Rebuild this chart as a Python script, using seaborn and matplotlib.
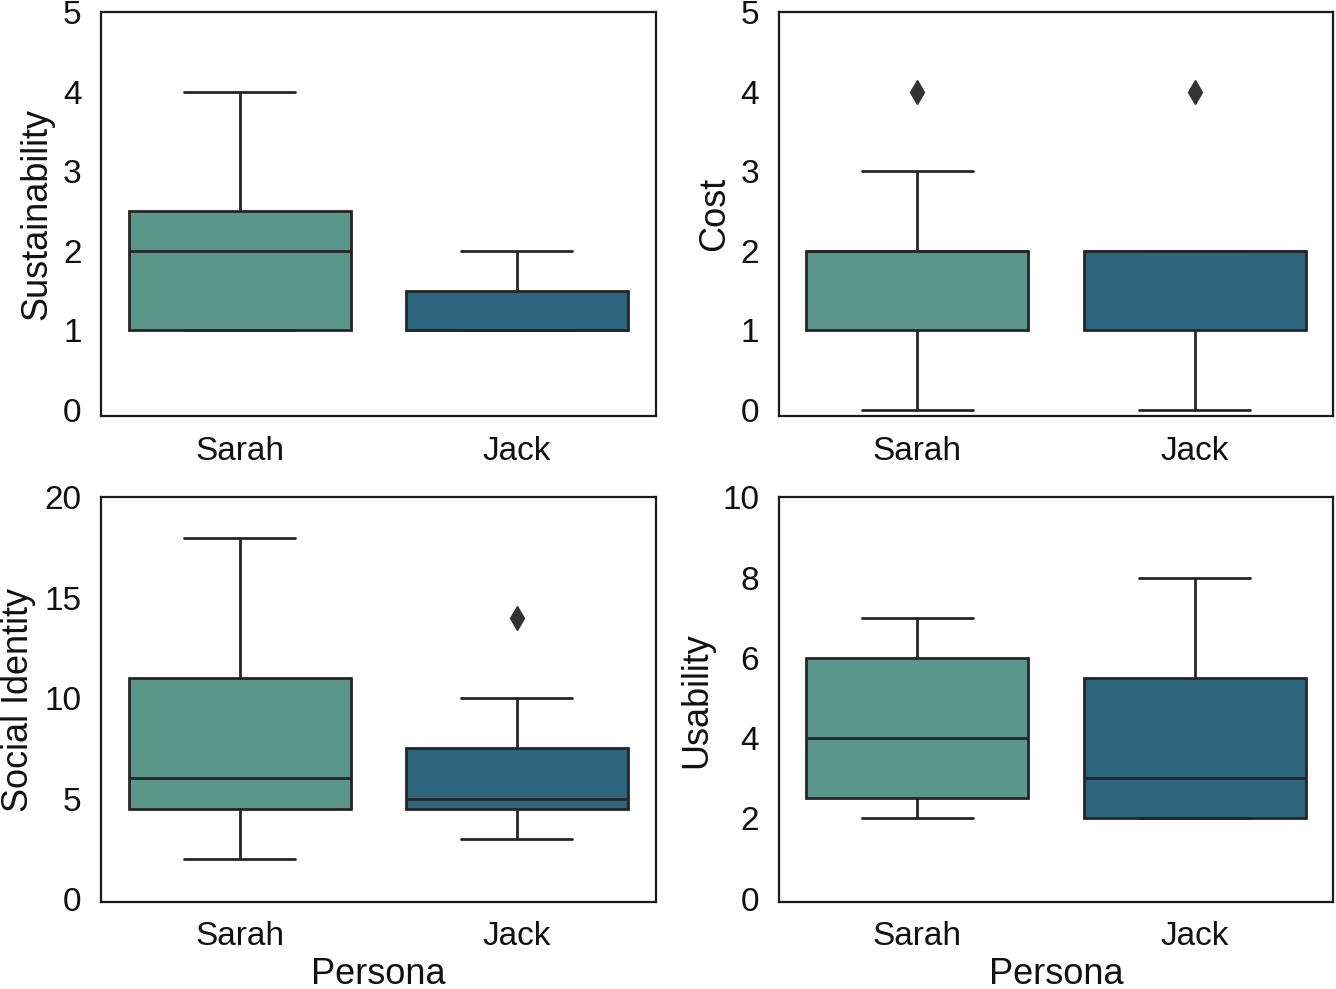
import numpy as np
import pandas as pd
import matplotlib
matplotlib.use("Agg")
import matplotlib.pyplot as plt
import seaborn as sns

# raw ratings per persona
personas = ["Sarah", "Jack"]
sustain_sarah = [1, 1, 1, 2, 2, 3, 4]
sustain_jack = [1, 1, 1, 1, 1, 2, 2]
cost_sarah = [0, 1, 1, 1, 2, 2, 2, 3, 4]
cost_jack = [0, 1, 1, 1, 2, 2, 2, 2, 4]
social_sarah = [2, 4, 5, 6, 10, 12, 18]
social_jack = [3, 4, 4, 5, 5, 5, 6, 7, 8, 10, 14]
usab_sarah = [2, 2, 3, 4, 5, 7, 7]
usab_jack = [2, 2, 2, 3, 5, 6, 8]

panels = [
    ("Sustainability", sustain_sarah, sustain_jack, (-0.08, 5), [0, 1, 2, 3, 4, 5]),
    ("Cost", cost_sarah, cost_jack, (-0.08, 5), [0, 1, 2, 3, 4, 5]),
    ("Social Identity", social_sarah, social_jack, (-0.15, 20), [0, 5, 10, 15, 20]),
    ("Usability", usab_sarah, usab_jack, (-0.08, 10), [0, 2, 4, 6, 8, 10]),
]
colors = {"Sarah": "#5a968a", "Jack": "#2d667c"}

sns.set_theme(style="white")
plt.rcParams.update({"font.family": ["Liberation Sans", "DejaVu Sans"],
                     "font.size": 24, "axes.linewidth": 1.6,
                     "axes.edgecolor": "#1a1a1a", "text.color": "#111111",
                     "axes.labelcolor": "#111111", "xtick.color": "#111111",
                     "ytick.color": "#111111"})

fig, axes = plt.subplots(2, 2, figsize=(13.36, 9.89), dpi=100)
fig.subplots_adjust(left=0.0756, right=0.998, top=0.988, bottom=0.088,
                    hspace=0.2, wspace=0.222)

for ax, (label, sarah, jack, ylim, ticks) in zip(axes.flatten(), panels):
    df = pd.DataFrame({
        "Persona": ["Sarah"] * len(sarah) + ["Jack"] * len(jack),
        label: sarah + jack,
    })
    sns.boxplot(data=df, x="Persona", y=label, hue="Persona", order=personas,
                palette=colors, legend=False, ax=ax, width=0.8,
                linecolor="#262626", linewidth=2.0, saturation=1,
                flierprops={"marker": "d", "markersize": 12,
                            "markerfacecolor": "#333333",
                            "markeredgecolor": "#333333"})
    ax.set_ylim(*ylim)
    ax.set_yticks(ticks)
    ax.tick_params(labelsize=24, pad=8)
    ax.set_ylabel(label, fontsize=26, labelpad=6)
    for s in ax.spines.values():
        s.set_visible(True)

for ax in axes[0]:
    ax.set_xlabel("")
for ax in axes[1]:
    ax.set_xlabel("Persona", fontsize=26, labelpad=3)

fig.savefig("out.png", dpi=100, facecolor="white")
